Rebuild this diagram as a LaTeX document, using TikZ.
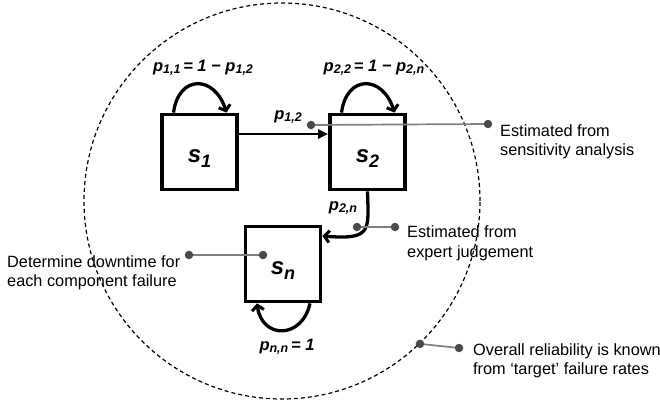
\documentclass[tikz,border=0pt]{standalone}
\usepackage{fontspec}
\setmainfont{Liberation Sans}
\usetikzlibrary{arrows.meta}
\definecolor{dotgray}{HTML}{4A4A4A}
\definecolor{linegray}{HTML}{808080}
\newcommand{\psub}[1]{\raisebox{-2.5pt}{\fontsize{12.5}{12.5}\selectfont #1}}
\newcommand{\ssub}[1]{\raisebox{-5pt}{\fontsize{18}{18}\selectfont #1}}
\begin{document}
\begin{tikzpicture}[x=1pt,y=-1pt,
  state/.style={draw, line width=3.8pt, minimum size=75pt, inner sep=0pt,
    text height=20pt, text depth=0pt,
    font=\fontsize{24}{24}\selectfont\bfseries\itshape},
  plabel/.style={inner sep=0pt, font=\fontsize{16.5}{18}\selectfont\bfseries\itshape},
  note/.style={inner sep=0pt, anchor=west, align=left,
    font=\fontsize{16.3}{19.5}\selectfont},
  dot/.style={circle, fill=dotgray, minimum size=8.5pt, inner sep=0pt},
  gline/.style={draw=linegray, line width=1.7pt},
  loopline/.style={line width=3.3pt, -{Straight Barb[length=5pt,width=12pt,line width=3pt]}},
  bound/.style={draw, dashed, dash pattern=on 4pt off 3pt, line width=1.2pt, circle,
    minimum size=396pt, inner sep=0pt}
]
\useasboundingbox (0,0) rectangle (660,404);
\fill[white] (0,0) rectangle (660,404);

% boundary circle
\node[bound] (circ) at (282,201) {};

% states
\node[state] (s1) at (199.5,152) {s\ssub{1}};
\node[state] (s2) at (367.5,152) {s\ssub{2}};
\node[state] (sn) at (283,264) {s\ssub{n}};

% self loops
\draw[loopline] ([xshift=-26pt]s1.north) .. controls +(5,-38) and +(-12,-38) .. ([xshift=27pt]s1.north);
\draw[loopline] ([xshift=-26pt]s2.north) .. controls +(5,-38) and +(-12,-38) .. ([xshift=27pt]s2.north);
\draw[loopline] ([xshift=27pt]sn.south) .. controls +(-8,36) and +(5,36) .. ([xshift=-26pt]sn.south);

% transitions
\draw[line width=2.3pt, -{Triangle[length=10pt,width=9pt]}] ([yshift=18pt]s1.east) -- ([yshift=18pt]s2.west);
\draw[loopline] (s2.south) .. controls +(1,39) and +(50,4) .. ([yshift=28pt]sn.east);

% transition labels
\node[plabel] (l11) at (203,68) {p\psub{1,1}\,= 1 − p\psub{1,2}};
\node[plabel] (l22) at (374,68) {p\psub{2,2}\,= 1 − p\psub{2,n}};
\node[plabel] (l12) at (288,117) {p\psub{1,2}};
\node[plabel] (l2n) at (343,208) {p\psub{2,n}};
\node[plabel] (lnn) at (287,347) {p\psub{n,n}\,= 1};

% annotation dots and lines
\coordinate (a1) at (311,125);
\coordinate (a2) at (488,124);
\coordinate (b1) at (357,227);
\coordinate (b2) at (395,227);
\coordinate (c1) at (189,255);
\coordinate (c2) at (263,255);
\coordinate (d1) at (circ.-46.4);
\coordinate (d2) at (459,348);
\draw[gline] (a1) -- (a2);
\draw[gline] (b1) -- (b2);
\draw[gline] (c1) -- (c2);
\draw[gline] (d1) -- (d2);
\foreach \p in {a1,a2,b1,b2,c1,c2,d1,d2} \node[dot] (dot-\p) at (\p) {};

% annotations
\node[note] (t1) at (500,142) {Estimated from\\sensitivity analysis};
\node[note] (t2) at (407,243.5) {Estimated from\\expert judgement};
\node[note] (t3) at (7,273) {Determine downtime for\\each component failure};
\node[note] (t4) at (473,361) {Overall reliability is known\\from ‘target’ failure rates};
\end{tikzpicture}
\end{document}
